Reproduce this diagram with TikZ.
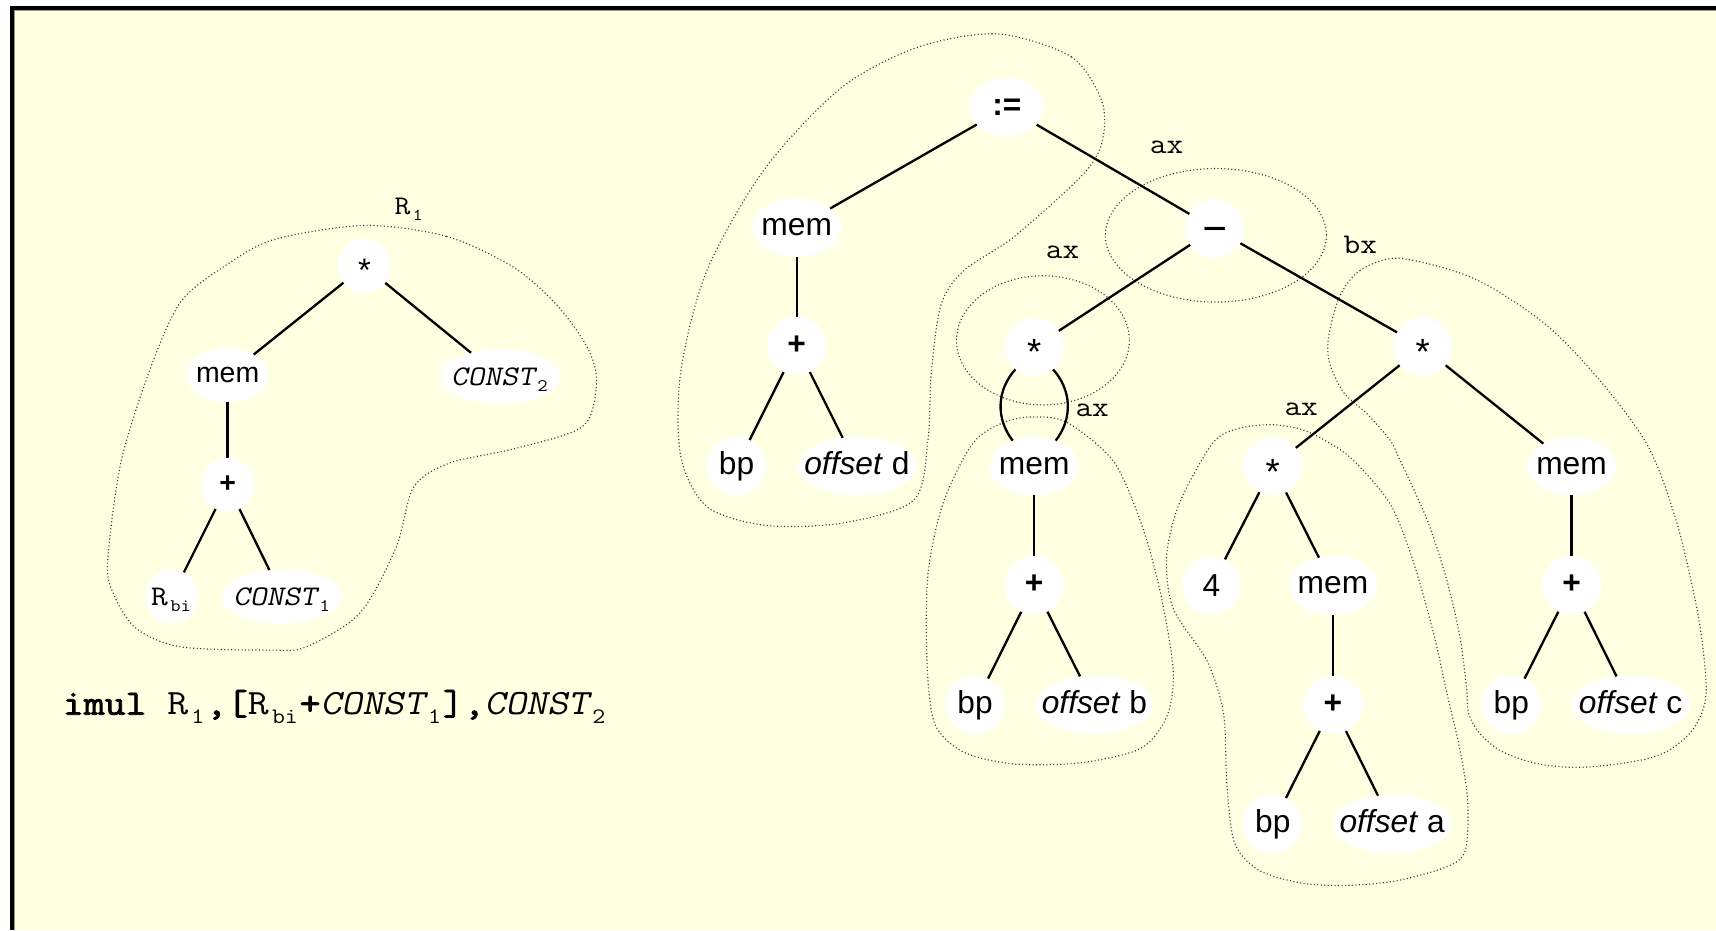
\documentclass[tikz,border=0pt]{standalone}
\usepackage{fontspec}
\usepackage{graphicx}
\setmainfont{Liberation Sans}
\newfontfamily\cour[FakeStretch=1.14,
  BoldFont={Latin Modern Mono}, BoldFeatures={FakeBold=2.2},
  ItalicFont={Latin Modern Mono}, ItalicFeatures={FakeSlant=0.2}]{Latin Modern Mono}
\usetikzlibrary{shapes.geometric}
\definecolor{paper}{HTML}{FFFFE1}
\definecolor{frameshade}{HTML}{9C9C80}
\definecolor{blobline}{HTML}{3A3A3A}
% lowered, reduced index as used in the register names
\newcommand\lowsub[1]{\kern0.09em\raisebox{-0.55ex}{\scalebox{0.62}{#1}}\kern0.05em}

\begin{document}
\begin{tikzpicture}[x=0.02cm, y=-0.02cm,
  every node/.style={inner sep=0pt, outer sep=0pt},
  bubble/.style 2 args={ellipse, fill=white, minimum width=#1, minimum height=#2,
    text depth=0pt,
    execute at begin node={\hbox to 0pt\bgroup\hss},
    execute at end node={\hss\egroup}},
  lfont/.style={font=\fontsize{14.8}{16}\selectfont, text height=7.7pt},
  lcfont/.style={font=\cour\fontsize{14.8}{16}\selectfont, text height=9pt},
  rfont/.style={font=\fontsize{16.5}{18}\selectfont, text height=8.6pt},
  lsmall/.style={bubble={0.98cm}{0.99cm}, lfont},
  lmem/.style={bubble={1.5cm}{0.99cm}, lfont},
  lconst/.style={bubble={2.2cm}{0.99cm}, lcfont},
  lreg/.style={bubble={0.96cm}{0.99cm}, lcfont},
  rsmall/.style={bubble={1.08cm}{1.07cm}, rfont},
  rassign/.style={bubble={1.36cm}{1.07cm}, rfont},
  rmem/.style={bubble={1.62cm}{1.07cm}, rfont},
  rwide/.style={bubble={2.16cm}{1.07cm}, rfont},
  edge/.style={line width=1.2pt},
  blob/.style={blobline, line width=0.6pt, dash pattern=on 0.55pt off 1.25pt},
  lbl/.style={font=\cour\fontsize{14.8}{16}\selectfont},
]
% page, yellow sheet and its black top/left border
\useasboundingbox (0,0) rectangle (1568,850);
\fill[white] (0,0) rectangle (1568,850);
\fill[paper] (12.8,8.6) rectangle (1568,850);
\fill[frameshade] (12.8,8.6) rectangle (1568,9.8);
\fill[frameshade] (12.8,8.6) rectangle (14,850);
\fill[black] (9,5.2) rectangle (1568,8.8);
\fill[black] (9,5.2) rectangle (12.8,850);

% dotted groupings
\draw[blob] plot[smooth cycle] coordinates {(333,206) (408,216) (469,244) (510,280) (538,320) (545,352) (532,390) (470,410) (411,423) (378,445) (362,500) (329,560) (280,591) (247,594) (165,591) (123,573) (101,536) (99,505) (111,420) (138,335) (165,276) (204,244) (250,219)};
\draw[blob] plot[smooth cycle] coordinates {(912,31) (979,52) (1007,93) (1007,130) (989,160) (927,216) (881,247) (860,278) (851,340) (848,401) (835,457) (769,478) (699,480) (646,463) (622,417) (622,340) (646,247) (699,154) (769,80) (839,43)};
\draw[blob] (1111,215) ellipse [x radius=101, y radius=61];
\draw[blob] (953,311) ellipse [x radius=79, y radius=59];
\draw[blob] plot[smooth cycle] coordinates {(944,381) (975,386) (1017,421) (1042,476) (1060,540) (1072,613) (1066,655) (1042,684) (987,697) (926,698) (880,687) (854,661) (847,604) (848,524) (862,459) (889,405) (917,386)};
\draw[blob] plot[smooth cycle] coordinates {(1160,388) (1188,392) (1210,402) (1236,420) (1270,460) (1291,512) (1310,579) (1322,633) (1334,685) (1341,731) (1339,777) (1322,792) (1275,805) (1230,809) (1190,807) (1150,795) (1128,770) (1121,716) (1118,652) (1103,604) (1072,556) (1066,508) (1078,459) (1108,405) (1130,392)};
\draw[blob] plot[smooth cycle] coordinates {(1279,236) (1243,247) (1224,271) (1214,308) (1215,332) (1228,359) (1249,378) (1270,402) (1279,420) (1304,475) (1322,530) (1334,582) (1340,628) (1342,652) (1352,670) (1371,686) (1401,697) (1432,701) (1462,700) (1502,694) (1526,685) (1548,665) (1559,633) (1552,564) (1532,477) (1506,408) (1463,349) (1413,297) (1348,255)};

% left tree
\node[lsmall] (star1) at (333,243) {\raisebox{-0.3em}{\scalebox{1.15}{*}}};
\node[lmem] (mem1) at (208,343) {mem};
\node[lconst] (const2) at (457,344) {\textit{CONST}\lowsub{2}};
\node[lsmall] (plus1) at (208,443) {\textbf{+}};
\node[lreg] (rbi) at (157,545) {R\lowsub{bi}};
\node[lconst] (const1) at (258,545) {\textit{CONST}\lowsub{1}};
\node[lbl, font=\cour\fontsize{14}{15}\selectfont] (r1) at (374,191) {R\lowsub{1}};
\node[anchor=base west, font=\cour\fontsize{18.5}{20}\selectfont] (imul) at (57.5,653)
  {\textbf{imul} R\lowsub{1}\textbf{,[}R\lowsub{bi}\textbf{+}\textit{CONST}\lowsub{1}\textbf{],}\textit{CONST}\lowsub{2}};

\draw[edge] (star1) -- (mem1);
\draw[edge] (star1) -- (const2);
\draw[edge] (mem1) -- (plus1);
\draw[edge] (plus1) -- (rbi);
\draw[edge] (plus1) -- (const1);

% right tree
\node[rassign] (assign) at (920,98) {\textbf{:=}};
\node[rmem] (memd) at (728,208) {mem};
\node[rsmall] (plusd) at (728,316) {\textbf{+}};
\node[rsmall] (bpd) at (673,426) {bp};
\node[rwide] (offd) at (783,426) {\textit{offset} d};
\node[rsmall] (minus) at (1110,209) {\textbf{\scalebox{1.3}[1]{–}}};
\node[rsmall] (starb) at (945,317) {\raisebox{-0.3em}{\scalebox{1.15}{*}}};
\node[rmem] (memb) at (945,426) {mem};
\node[rsmall] (plusb) at (945,535) {\textbf{+}};
\node[rsmall] (bpb) at (891,644) {bp};
\node[rwide] (offb) at (1000,644) {\textit{offset} b};
\node[rsmall] (starbx) at (1300,317) {\raisebox{-0.3em}{\scalebox{1.15}{*}}};
\node[rsmall] (stara) at (1163,426) {\raisebox{-0.3em}{\scalebox{1.15}{*}}};
\node[rsmall, text height=11.8pt] (four) at (1107,535) {4};
\node[rmem] (mema) at (1218,535) {mem};
\node[rsmall] (plusa) at (1218,644) {\textbf{+}};
\node[rsmall] (bpa) at (1163,753) {bp};
\node[rwide] (offa) at (1272,753) {\textit{offset} a};
\node[rmem] (memc) at (1436,426) {mem};
\node[rsmall] (plusc) at (1436,535) {\textbf{+}};
\node[rsmall] (bpc) at (1381,644) {bp};
\node[rwide] (offc) at (1490,644) {\textit{offset} c};

\node[lbl] (axtop) at (1066,135) {ax};
\node[lbl] (axstar) at (971,231) {ax};
\node[lbl] (axmem) at (998,375) {ax};
\node[lbl] (bxlbl) at (1243,224) {bx};
\node[lbl] (axmul) at (1189,374) {ax};

\draw[edge] (assign) -- (memd);
\draw[edge] (assign) -- (minus);
\draw[edge] (memd) -- (plusd);
\draw[edge] (plusd) -- (bpd);
\draw[edge] (plusd) -- (offd);
\draw[edge] (minus) -- (starb);
\draw[edge] (minus) -- (starbx);
\draw[edge] (starb) to[bend right=40] (memb);
\draw[edge] (starb) to[bend left=40] (memb);
\draw[edge] (memb) -- (plusb);
\draw[edge] (plusb) -- (bpb);
\draw[edge] (plusb) -- (offb);
\draw[edge] (starbx) -- (stara);
\draw[edge] (starbx) -- (memc);
\draw[edge] (stara) -- (four);
\draw[edge] (stara) -- (mema);
\draw[edge] (mema) -- (plusa);
\draw[edge] (plusa) -- (bpa);
\draw[edge] (plusa) -- (offa);
\draw[edge] (memc) -- (plusc);
\draw[edge] (plusc) -- (bpc);
\draw[edge] (plusc) -- (offc);
\end{tikzpicture}
\end{document}
